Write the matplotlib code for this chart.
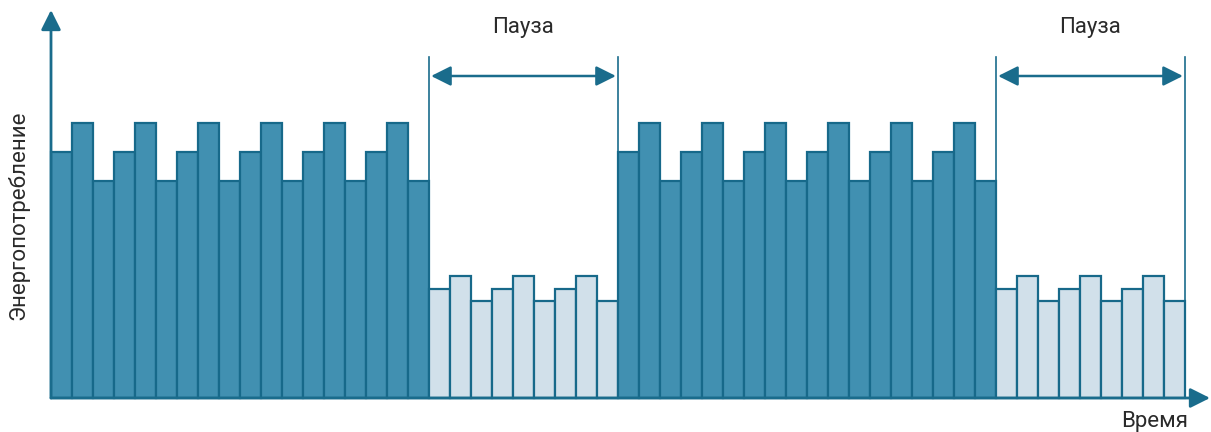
import matplotlib
matplotlib.use("Agg")
import matplotlib.pyplot as plt

# ---- data ----
active_values = [246, 275, 217] * 6     # energy during work phase (18 bars)
pause_values = [109, 122, 97] * 3       # energy during pause (9 bars)
phases = ["active", "pause", "active", "pause"]
pause_label = "Пауза"
y_label = "Энергопотребление"
x_label = "Время"

dark_fill = "#4190B1"
light_fill = "#D1E0EA"
edge = "#17698A"
axis_col = "#1A6C8C"
text_col = "#2a2a2a"

heights, fills = [], []
for ph in phases:
    vals = active_values if ph == "active" else pause_values
    heights += vals
    fills += [dark_fill if ph == "active" else light_fill] * len(vals)

W, H, DPI = 1211, 432, 100
fig = plt.figure(figsize=(W / DPI, H / DPI), dpi=DPI)
ax = fig.add_axes([0, 0, 1, 1])
bw = 21.0
x0 = 51
ax.set_xlim(-x0 / bw, (W - x0) / bw)
ax.set_ylim(398 - H, 398)
ax.axis("off")

xs = list(range(len(heights)))
ax.bar(xs, heights, width=1.0, align="edge", color=fills, edgecolor=edge,
       linewidth=1.6, zorder=3)

# pause markers
start = 0
for ph in phases:
    n = len(active_values) if ph == "active" else len(pause_values)
    if ph == "pause":
        a, b = start, start + n
        for xv in (a, b):
            ax.plot([xv, xv], [0, 398 - 57], color=axis_col, lw=1.2, zorder=2)
        ax.annotate("", xy=(b - 0.1, 398 - 76), xytext=(a + 0.1, 398 - 76),
                    arrowprops=dict(arrowstyle="<|-|>", color=axis_col, lw=1.8,
                                    mutation_scale=30, shrinkA=0, shrinkB=0),
                    zorder=4)
        ax.text((a + b) / 2, 398 - 28, pause_label, ha="center", va="center",
                fontsize=16, color=text_col, family="Roboto")
    start += n

# axes with arrows
ax.annotate("", xy=(0, 398 - 10), xytext=(0, 0),
            arrowprops=dict(arrowstyle="-|>", color=axis_col, lw=2.0,
                            mutation_scale=30, shrinkA=0, shrinkB=0), zorder=5)
ax.annotate("", xy=((1210 - x0) / bw, 0), xytext=(0, 0),
            arrowprops=dict(arrowstyle="-|>", color=axis_col, lw=2.0,
                            mutation_scale=30, shrinkA=0, shrinkB=0), zorder=5)

ax.text((18 - x0) / bw, 398 - 215, y_label, rotation=90, ha="center", va="center",
        fontsize=16, color=text_col, family="Roboto")
ax.text((1155 - x0) / bw, 398 - 421, x_label, ha="center", va="center",
        fontsize=16, color=text_col, family="Roboto")

fig.savefig("out.png", dpi=DPI)
